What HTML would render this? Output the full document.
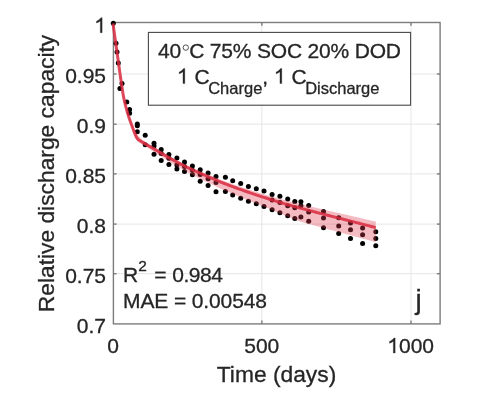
<!DOCTYPE html>
<html><head><meta charset="utf-8"><style>
html,body{margin:0;padding:0;background:#fff;}
svg{display:block;filter:blur(0.35px);font-family:"Liberation Sans",sans-serif;}
.g{stroke:#e6e6e6;stroke-width:1;}
.ax{stroke:#5a5a5a;stroke-width:1;fill:none;}
.t{font-size:21px;fill:#262626;stroke:#262626;stroke-width:0.3px;}
.lab{font-size:22.8px;fill:#262626;stroke:#262626;stroke-width:0.3px;}
</style></head><body>
<svg width="480" height="396" viewBox="0 0 480 396">
<rect width="480" height="396" fill="#fff"/>
<g class="g">
<line x1="113" y1="74" x2="440" y2="74"/>
<line x1="113" y1="124.2" x2="440" y2="124.2"/>
<line x1="113" y1="173.9" x2="440" y2="173.9"/>
<line x1="113" y1="224.1" x2="440" y2="224.1"/>
<line x1="113" y1="273.7" x2="440" y2="273.7"/>
<line x1="261.85" y1="23" x2="261.85" y2="323" />
<line x1="411" y1="23" x2="411" y2="323"/>
</g>
<g stroke="#7c7c7c" stroke-width="1.4">
<line x1="113.4" y1="74" x2="116.6" y2="74"/><line x1="113.4" y1="124.2" x2="116.6" y2="124.2"/><line x1="113.4" y1="173.9" x2="116.6" y2="173.9"/><line x1="113.4" y1="224.1" x2="116.6" y2="224.1"/><line x1="113.4" y1="273.7" x2="116.6" y2="273.7"/>
<line x1="436.9" y1="74" x2="440.1" y2="74"/><line x1="436.9" y1="124.2" x2="440.1" y2="124.2"/><line x1="436.9" y1="173.9" x2="440.1" y2="173.9"/><line x1="436.9" y1="224.1" x2="440.1" y2="224.1"/><line x1="436.9" y1="273.7" x2="440.1" y2="273.7"/>
<line x1="261.85" y1="320.6" x2="261.85" y2="323.9"/><line x1="411" y1="320.6" x2="411" y2="323.9"/>
<line x1="261.85" y1="22.5" x2="261.85" y2="25.8"/><line x1="411" y1="22.5" x2="411" y2="25.8"/>
</g>
<rect x="113.4" y="22.5" width="326.7" height="301.4" fill="none" stroke="#7c7c7c" stroke-width="1.4"/>
<g fill="#000">
<circle cx="113.3" cy="23.3" r="2.5"/>
<circle cx="116.0" cy="43.3" r="2.5"/>
<circle cx="117.0" cy="52.0" r="2.5"/>
<circle cx="118.3" cy="63.0" r="2.5"/>
<circle cx="122.0" cy="83.4" r="2.5"/>
<circle cx="119.9" cy="88.6" r="2.5"/>
<circle cx="126.8" cy="101.9" r="2.5"/>
<circle cx="129.6" cy="109.4" r="2.5"/>
<circle cx="129.6" cy="113.3" r="2.5"/>
<circle cx="137.3" cy="123.9" r="2.5"/>
<circle cx="137.3" cy="125.8" r="2.5"/>
<circle cx="137.3" cy="131.8" r="2.5"/>
<circle cx="145.2" cy="135.3" r="2.5"/>
<circle cx="145.2" cy="144.8" r="2.5"/>
<circle cx="154.0" cy="143.3" r="2.5"/>
<circle cx="154.0" cy="146.0" r="2.5"/>
<circle cx="154.0" cy="154.3" r="2.5"/>
<circle cx="161.2" cy="149.4" r="2.5"/>
<circle cx="161.2" cy="153.6" r="2.5"/>
<circle cx="161.2" cy="160.4" r="2.5"/>
<circle cx="168.9" cy="154.5" r="2.5"/>
<circle cx="168.9" cy="158.2" r="2.5"/>
<circle cx="168.9" cy="164.4" r="2.5"/>
<circle cx="176.9" cy="158.1" r="2.5"/>
<circle cx="176.9" cy="165.1" r="2.5"/>
<circle cx="176.9" cy="168.9" r="2.5"/>
<circle cx="184.5" cy="161.9" r="2.5"/>
<circle cx="184.5" cy="166.5" r="2.5"/>
<circle cx="184.5" cy="171.4" r="2.5"/>
<circle cx="192.4" cy="165.9" r="2.5"/>
<circle cx="192.4" cy="170.3" r="2.5"/>
<circle cx="192.4" cy="174.7" r="2.5"/>
<circle cx="200.2" cy="169.7" r="2.5"/>
<circle cx="200.2" cy="174.4" r="2.5"/>
<circle cx="200.2" cy="181.2" r="2.5"/>
<circle cx="208.1" cy="172.9" r="2.5"/>
<circle cx="208.1" cy="178.7" r="2.5"/>
<circle cx="208.1" cy="185.5" r="2.5"/>
<circle cx="216.0" cy="176.6" r="2.5"/>
<circle cx="216.0" cy="182.5" r="2.5"/>
<circle cx="216.0" cy="191.7" r="2.5"/>
<circle cx="225.4" cy="177.2" r="2.5"/>
<circle cx="225.4" cy="191.5" r="2.5"/>
<circle cx="232.7" cy="180.8" r="2.5"/>
<circle cx="232.7" cy="194.9" r="2.5"/>
<circle cx="240.7" cy="183.6" r="2.5"/>
<circle cx="240.7" cy="198.3" r="2.5"/>
<circle cx="248.4" cy="186.4" r="2.5"/>
<circle cx="248.4" cy="201.2" r="2.5"/>
<circle cx="256.3" cy="188.8" r="2.5"/>
<circle cx="256.3" cy="203.8" r="2.5"/>
<circle cx="264.0" cy="191.1" r="2.5"/>
<circle cx="264.0" cy="206.5" r="2.5"/>
<circle cx="272.1" cy="194.4" r="2.5"/>
<circle cx="272.1" cy="200.1" r="2.5"/>
<circle cx="272.1" cy="209.8" r="2.5"/>
<circle cx="279.9" cy="196.3" r="2.5"/>
<circle cx="279.9" cy="202.6" r="2.5"/>
<circle cx="279.9" cy="212.7" r="2.5"/>
<circle cx="287.7" cy="198.9" r="2.5"/>
<circle cx="287.7" cy="205.8" r="2.5"/>
<circle cx="287.7" cy="215.7" r="2.5"/>
<circle cx="294.8" cy="201.4" r="2.5"/>
<circle cx="294.8" cy="207.7" r="2.5"/>
<circle cx="294.8" cy="218.4" r="2.5"/>
<circle cx="300.9" cy="201.8" r="2.5"/>
<circle cx="300.9" cy="205.7" r="2.5"/>
<circle cx="300.9" cy="217.1" r="2.5"/>
<circle cx="308.7" cy="205.5" r="2.5"/>
<circle cx="308.7" cy="212.1" r="2.5"/>
<circle cx="308.7" cy="221.2" r="2.5"/>
<circle cx="323.5" cy="211.5" r="2.5"/>
<circle cx="323.5" cy="218.1" r="2.5"/>
<circle cx="323.5" cy="227.8" r="2.5"/>
<circle cx="338.7" cy="217.7" r="2.5"/>
<circle cx="338.7" cy="225.9" r="2.5"/>
<circle cx="338.7" cy="233.4" r="2.5"/>
<circle cx="350.5" cy="223.0" r="2.5"/>
<circle cx="350.5" cy="229.8" r="2.5"/>
<circle cx="350.5" cy="238.6" r="2.5"/>
<circle cx="362.6" cy="228.0" r="2.5"/>
<circle cx="362.6" cy="234.7" r="2.5"/>
<circle cx="362.6" cy="243.5" r="2.5"/>
<circle cx="375.8" cy="231.7" r="2.5"/>
<circle cx="375.8" cy="238.6" r="2.5"/>
<circle cx="375.8" cy="245.8" r="2.5"/>
</g>
<path d="M113.00,22.50 L113.46,25.79 L113.92,29.08 L114.32,31.99 L114.37,32.36 L114.83,35.64 L115.29,38.91 L115.64,41.43 L115.75,42.18 L116.20,45.44 L116.66,48.70 L116.96,50.85 L117.12,51.96 L117.58,55.21 L118.03,58.46 L118.28,60.23 L118.49,61.73 L118.95,65.01 L119.41,68.30 L119.60,69.70 L119.86,71.56 L120.32,74.76 L120.78,77.91 L120.92,78.88 L121.24,81.00 L121.69,84.12 L122.15,87.22 L122.24,87.82 L122.61,90.17 L123.07,92.92 L123.53,95.44 L123.56,95.65 L123.98,97.75 L124.44,99.87 L124.89,101.80 L124.90,101.85 L125.36,103.73 L125.81,105.51 L126.21,107.00 L126.27,107.24 L126.73,108.91 L127.19,110.53 L127.53,111.68 L127.64,112.07 L128.10,113.54 L128.56,114.85 L128.85,115.65 L129.02,116.11 L129.47,117.35 L129.93,118.53 L130.17,119.13 L130.39,119.69 L130.85,120.82 L131.31,121.92 L131.49,122.35 L131.76,123.00 L132.22,124.09 L132.68,125.20 L132.81,125.52 L133.14,126.31 L133.59,127.41 L134.05,128.52 L134.13,128.71 L134.51,129.63 L134.97,130.74 L135.42,131.68 L135.45,131.74 L135.88,132.55 L136.34,133.33 L136.77,133.96 L136.80,133.99 L137.25,134.68 L137.71,135.32 L138.09,135.78 L138.17,135.87 L138.63,136.35 L139.08,136.78 L139.41,137.07 L139.54,137.19 L140.00,137.59 L140.73,138.27 L142.05,139.47 L143.37,140.42 L144.69,141.34 L146.02,142.26 L147.34,143.16 L148.66,144.07 L149.98,144.98 L151.30,145.74 L152.62,146.49 L153.94,147.25 L155.26,148.02 L156.58,148.79 L157.90,149.55 L159.22,150.32 L160.54,151.08 L161.86,151.85 L163.18,152.62 L164.50,153.40 L165.82,154.17 L167.14,154.93 L168.47,155.68 L169.79,156.42 L171.11,157.15 L172.43,157.86 L173.75,158.57 L175.07,159.27 L176.39,159.96 L177.71,160.64 L179.03,161.32 L180.35,161.99 L181.67,162.65 L182.99,163.31 L184.31,163.96 L185.63,164.61 L186.95,165.25 L188.27,165.88 L189.59,166.49 L190.92,167.10 L192.24,167.69 L193.56,168.28 L194.88,168.85 L196.20,169.42 L197.52,169.99 L198.84,170.55 L200.16,171.12 L201.48,171.68 L202.80,172.23 L204.12,172.78 L205.44,173.33 L206.76,173.88 L208.08,174.42 L209.40,174.97 L210.72,175.52 L212.05,176.08 L213.37,176.64 L214.69,177.20 L216.01,177.76 L217.33,178.31 L218.65,178.85 L219.97,179.38 L221.29,179.89 L222.61,180.40 L223.93,180.90 L225.25,181.39 L226.57,181.88 L227.89,182.36 L229.21,182.84 L230.53,183.32 L231.85,183.79 L233.17,184.26 L234.50,184.72 L235.82,185.18 L237.14,185.64 L238.46,186.10 L239.78,186.55 L241.10,187.01 L242.42,187.46 L243.74,187.90 L245.06,188.34 L246.38,188.78 L247.70,189.22 L249.02,189.65 L250.34,190.08 L251.66,190.49 L252.98,190.90 L254.30,191.31 L255.63,191.72 L256.95,192.12 L258.27,192.52 L259.59,192.92 L260.91,193.32 L262.23,193.72 L263.55,194.11 L264.87,194.51 L266.19,194.90 L267.51,195.29 L268.83,195.68 L270.15,196.06 L271.47,196.45 L272.79,196.83 L274.11,197.20 L275.43,197.58 L276.75,197.95 L278.08,198.31 L279.40,198.67 L280.72,199.03 L282.04,199.39 L283.36,199.73 L284.68,200.08 L286.00,200.42 L287.32,200.76 L288.64,201.10 L289.96,201.43 L291.28,201.77 L292.60,202.10 L293.92,202.43 L295.24,202.75 L296.56,203.08 L297.88,203.41 L299.21,203.73 L300.53,204.06 L301.85,204.38 L303.17,204.71 L304.49,205.03 L305.81,205.35 L307.13,205.67 L308.45,205.99 L309.77,206.30 L311.09,206.62 L312.41,206.93 L313.73,207.25 L315.05,207.56 L316.37,207.87 L317.69,208.18 L319.01,208.49 L320.33,208.80 L321.66,209.11 L322.98,209.42 L324.30,209.72 L325.62,210.03 L326.94,210.33 L328.26,210.63 L329.58,210.93 L330.90,211.23 L332.22,211.53 L333.54,211.84 L334.86,212.14 L336.18,212.44 L337.50,212.74 L338.82,213.04 L340.14,213.35 L341.46,213.65 L342.78,213.96 L344.11,214.26 L345.43,214.57 L346.75,214.87 L348.07,215.18 L349.39,215.48 L350.71,215.79 L352.03,216.09 L353.35,216.40 L354.67,216.70 L355.99,217.01 L357.31,217.31 L358.63,217.62 L359.95,217.92 L361.27,218.23 L362.59,218.54 L363.91,218.84 L365.24,219.15 L366.56,219.46 L367.88,219.76 L369.20,220.07 L370.52,220.38 L371.84,220.68 L373.16,220.99 L374.48,221.30 L375.80,221.61 L375.80,242.10 L374.48,241.74 L373.16,241.38 L371.84,241.02 L370.52,240.66 L369.20,240.31 L367.88,239.95 L366.56,239.59 L365.24,239.23 L363.91,238.88 L362.59,238.52 L361.27,238.16 L359.95,237.81 L358.63,237.45 L357.31,237.09 L355.99,236.74 L354.67,236.38 L353.35,236.02 L352.03,235.67 L350.71,235.31 L349.39,234.95 L348.07,234.60 L346.75,234.24 L345.43,233.89 L344.11,233.53 L342.78,233.18 L341.46,232.82 L340.14,232.46 L338.82,232.11 L337.50,231.76 L336.18,231.40 L334.86,231.05 L333.54,230.70 L332.22,230.35 L330.90,229.99 L329.58,229.64 L328.26,229.29 L326.94,228.94 L325.62,228.58 L324.30,228.23 L322.98,227.87 L321.66,227.51 L320.33,227.15 L319.01,226.79 L317.69,226.43 L316.37,226.07 L315.05,225.71 L313.73,225.34 L312.41,224.98 L311.09,224.61 L309.77,224.25 L308.45,223.88 L307.13,223.51 L305.81,223.14 L304.49,222.77 L303.17,222.40 L301.85,222.03 L300.53,221.65 L299.21,221.18 L297.88,220.66 L296.56,220.13 L295.24,219.61 L293.92,219.08 L292.60,218.55 L291.28,218.03 L289.96,217.49 L288.64,216.96 L287.32,216.43 L286.00,215.89 L284.68,215.35 L283.36,214.80 L282.04,214.25 L280.72,213.70 L279.40,213.14 L278.08,212.58 L276.75,212.02 L275.43,211.45 L274.11,210.88 L272.79,210.30 L271.47,209.72 L270.15,209.14 L268.83,208.56 L267.51,208.00 L266.19,207.48 L264.87,206.96 L263.55,206.44 L262.23,205.91 L260.91,205.39 L259.59,204.86 L258.27,204.34 L256.95,203.81 L255.63,203.28 L254.30,202.74 L252.98,202.21 L251.66,201.67 L250.34,201.13 L249.02,200.59 L247.70,200.04 L246.38,199.49 L245.06,198.94 L243.74,198.39 L242.42,197.83 L241.10,197.27 L239.78,196.71 L238.46,196.17 L237.14,195.63 L235.82,195.09 L234.50,194.55 L233.17,194.00 L231.85,193.45 L230.53,192.89 L229.21,192.33 L227.89,191.77 L226.57,191.20 L225.25,190.63 L223.93,190.05 L222.61,189.47 L221.29,188.88 L219.97,188.29 L218.65,187.68 L217.33,187.06 L216.01,186.42 L214.69,185.78 L213.37,185.14 L212.05,184.49 L210.72,183.85 L209.40,183.21 L208.08,182.58 L206.76,181.95 L205.44,181.32 L204.12,180.69 L202.80,180.06 L201.48,179.42 L200.16,178.78 L198.84,178.13 L197.52,177.48 L196.20,176.84 L194.88,176.18 L193.56,175.52 L192.24,174.85 L190.92,174.18 L189.59,173.49 L188.27,172.78 L186.95,172.06 L185.63,171.34 L184.31,170.60 L182.99,169.86 L181.67,169.11 L180.35,168.36 L179.03,167.60 L177.71,166.83 L176.39,166.06 L175.07,165.28 L173.75,164.49 L172.43,163.69 L171.11,162.89 L169.79,162.08 L168.47,161.25 L167.14,160.41 L165.82,159.55 L164.50,158.70 L163.18,157.83 L161.86,156.97 L160.54,156.11 L159.22,155.26 L157.90,154.41 L156.58,153.55 L155.26,152.69 L153.94,151.84 L152.62,150.99 L151.30,150.14 L149.98,149.30 L148.66,148.48 L147.34,147.67 L146.02,146.86 L144.69,146.04 L143.37,145.20 L142.05,144.35 L140.73,143.46 L140.00,142.97 L139.54,142.67 L139.41,142.59 L139.08,142.38 L138.63,142.05 L138.17,141.69 L138.09,141.62 L137.71,141.26 L137.25,140.72 L136.80,140.03 L136.77,139.98 L136.34,139.20 L135.88,138.25 L135.45,137.28 L135.42,137.22 L134.97,136.11 L134.51,134.83 L134.13,133.78 L134.05,133.56 L133.59,132.29 L133.14,131.02 L132.81,130.11 L132.68,129.75 L132.22,128.48 L131.76,127.22 L131.49,126.48 L131.31,125.98 L130.85,124.71 L130.39,123.43 L130.17,122.79 L129.93,122.10 L129.47,120.76 L129.02,119.35 L128.85,118.83 L128.56,117.93 L128.10,116.46 L127.64,114.93 L127.53,114.53 L127.19,113.36 L126.73,111.72 L126.27,110.02 L126.21,109.77 L125.81,108.26 L125.36,106.46 L124.90,104.55 L124.89,104.50 L124.44,102.54 L123.98,100.39 L123.56,98.27 L123.53,98.06 L123.07,95.51 L122.61,92.74 L122.24,90.37 L122.15,89.76 L121.69,86.64 L121.24,83.48 L120.92,81.35 L120.78,80.36 L120.32,77.20 L119.86,73.96 L119.60,72.09 L119.41,70.67 L118.95,67.36 L118.49,64.05 L118.28,62.54 L118.03,60.76 L117.58,57.48 L117.12,54.20 L116.96,53.08 L116.66,50.92 L116.20,47.63 L115.75,44.34 L115.64,43.59 L115.29,41.05 L114.83,37.75 L114.37,34.44 L114.32,34.07 L113.92,31.13 L113.46,27.82 L113.00,24.50Z" fill="#e04050" fill-opacity="0.35"/>
<path d="M113.00,23.50 L113.32,25.83 L113.65,28.16 L113.97,30.49 L114.29,32.82 L114.62,35.15 L114.94,37.48 L115.27,39.81 L115.59,42.14 L115.92,44.47 L116.25,46.80 L116.57,49.12 L116.90,51.45 L117.23,53.78 L117.55,56.11 L117.88,58.44 L118.21,60.77 L118.53,63.10 L118.86,65.43 L119.18,67.76 L119.51,70.09 L119.83,72.42 L120.16,74.75 L120.50,77.08 L120.84,79.41 L121.18,81.74 L121.52,84.07 L121.86,86.40 L122.21,88.73 L122.57,91.06 L122.95,93.39 L123.36,95.72 L123.80,98.05 L124.29,100.38 L124.82,102.70 L125.39,105.03 L125.99,107.36 L126.62,109.69 L127.27,112.02 L127.97,114.35 L128.70,116.68 L129.48,119.01 L130.28,121.34 L131.13,123.67 L132.00,126.00 L135.00,134.20 L136.51,137.45 L138.03,139.40 L139.54,140.43 L141.06,141.35 L142.57,142.27 L144.09,143.16 L145.60,144.02 L147.12,144.87 L148.63,145.72 L150.14,146.58 L151.66,147.46 L153.17,148.35 L154.69,149.25 L156.20,150.15 L157.72,151.05 L159.23,151.95 L160.75,152.84 L162.26,153.74 L163.77,154.65 L165.29,155.56 L166.80,156.45 L168.32,157.34 L169.83,158.21 L171.35,159.05 L172.86,159.89 L174.38,160.72 L175.89,161.53 L177.41,162.34 L178.92,163.14 L180.43,163.93 L181.95,164.71 L183.46,165.48 L184.98,166.25 L186.49,167.00 L188.01,167.74 L189.52,168.47 L191.04,169.19 L192.55,169.89 L194.06,170.57 L195.58,171.25 L197.09,171.92 L198.61,172.59 L200.12,173.25 L201.64,173.91 L203.15,174.57 L204.67,175.22 L206.18,175.87 L207.69,176.51 L209.21,177.16 L210.72,177.81 L212.24,178.47 L213.75,179.14 L215.27,179.80 L216.78,180.45 L218.30,181.10 L219.81,181.72 L221.32,182.33 L222.84,182.93 L224.35,183.52 L225.87,184.11 L227.38,184.68 L228.90,185.26 L230.41,185.82 L231.93,186.38 L233.44,186.94 L234.95,187.49 L236.47,188.03 L237.98,188.58 L239.50,189.12 L241.01,189.66 L242.53,190.19 L244.04,190.73 L245.56,191.25 L247.07,191.77 L248.58,192.29 L250.10,192.81 L251.61,193.32 L253.13,193.83 L254.64,194.33 L256.16,194.84 L257.67,195.34 L259.19,195.83 L260.70,196.33 L262.22,196.82 L263.73,197.31 L265.24,197.80 L266.76,198.29 L268.27,198.78 L269.79,199.26 L271.30,199.74 L272.82,200.21 L274.33,200.68 L275.85,201.15 L277.36,201.61 L278.87,202.06 L280.39,202.52 L281.90,202.96 L283.42,203.40 L284.93,203.83 L286.45,204.26 L287.96,204.69 L289.48,205.11 L290.99,205.53 L292.50,205.95 L294.02,206.37 L295.53,206.78 L297.05,207.20 L298.56,207.61 L300.08,208.02 L301.59,208.43 L303.11,208.84 L304.62,209.25 L306.13,209.65 L307.65,210.06 L309.16,210.46 L310.68,210.86 L312.19,211.26 L313.71,211.66 L315.22,212.05 L316.74,212.45 L318.25,212.84 L319.76,213.24 L321.28,213.63 L322.79,214.02 L324.31,214.41 L325.82,214.80 L327.34,215.18 L328.85,215.57 L330.37,215.95 L331.88,216.34 L333.39,216.72 L334.91,217.10 L336.42,217.49 L337.94,217.87 L339.45,218.26 L340.97,218.65 L342.48,219.04 L344.00,219.42 L345.51,219.81 L347.03,220.20 L348.54,220.59 L350.05,220.98 L351.57,221.36 L353.08,221.75 L354.60,222.14 L356.11,222.53 L357.63,222.92 L359.14,223.31 L360.66,223.70 L362.17,224.09 L363.68,224.48 L365.20,224.87 L366.71,225.26 L368.23,225.65 L369.74,226.04 L371.26,226.43 L372.77,226.82 L374.29,227.21 L375.80,227.60" fill="none" stroke="#d92a40" stroke-opacity="0.85" stroke-width="3.0" stroke-linejoin="miter" stroke-linecap="butt"/>
<g class="t" text-anchor="end">
<text x="106" y="32.7"><tspan visibility="hidden">1</tspan></text>
<text x="106" y="83.2">0.95</text>
<text x="106" y="133.2">0.9</text>
<text x="106" y="183.2">0.85</text>
<text x="106" y="233.2">0.8</text>
<text x="106" y="283.2">0.75</text>
<text x="106" y="333.2">0.7</text>
</g>
<g class="t" text-anchor="middle">
<text x="113" y="353">0</text>
<text x="261.8" y="353">500</text>
<text x="410.7" y="353"><tspan visibility="hidden">1</tspan>000</text>
</g>
<text class="lab" x="276.5" y="381.5" text-anchor="middle">Time (days)</text>
<text class="lab" transform="translate(54,173.5) rotate(-90)" text-anchor="middle">Relative discharge capacity</text>
<rect x="148.4" y="32.4" width="262.2" height="72.8" fill="#fff" stroke="#484848" stroke-width="1.1"/>
<text class="t" x="158" y="58" textLength="243" lengthAdjust="spacing">40<tspan visibility="hidden">°</tspan>C 75% SOC 20% DOD</text>
<text class="t" x="177" y="83.5"><tspan visibility="hidden">1</tspan> C<tspan font-size="16.5" dy="10.5" dx="-1.5">Charge</tspan><tspan dy="-10.5">, </tspan><tspan visibility="hidden">1</tspan><tspan> C</tspan><tspan font-size="16.5" dy="10.5" dx="-1.5">Discharge</tspan></text>
<text class="t" x="123" y="282.3">R<tspan font-size="15.5" dy="-11.5">2</tspan><tspan dy="11.5" dx="1.6"> = </tspan><tspan style="letter-spacing:-0.5px">0.984</tspan></text>
<text class="t" x="123" y="308" textLength="144" lengthAdjust="spacing">MAE = 0.00548</text>
<text x="415.5" y="308.5" style="font-size:28px;fill:#262626;stroke:#262626;stroke-width:0.3px">j</text>
<path transform="translate(94.312,32.70) scale(0.010254,-0.010254)" d="M763,0 L583,0 L583,1147 Q420,1010 209,939 L209,1113 Q480,1235 649,1466 L763,1466 Z" fill="#262626" stroke="#262626" stroke-width="29"/>
<path transform="translate(387.341,353.00) scale(0.010254,-0.010254)" d="M763,0 L583,0 L583,1147 Q420,1010 209,939 L209,1113 Q480,1235 649,1466 L763,1466 Z" fill="#262626" stroke="#262626" stroke-width="29"/>
<path transform="translate(177.000,83.50) scale(0.010254,-0.010254)" d="M763,0 L583,0 L583,1147 Q420,1010 209,939 L209,1113 Q480,1235 649,1466 L763,1466 Z" fill="#262626" stroke="#262626" stroke-width="29"/>
<path transform="translate(273.969,83.50) scale(0.010254,-0.010254)" d="M763,0 L583,0 L583,1147 Q420,1010 209,939 L209,1113 Q480,1235 649,1466 L763,1466 Z" fill="#262626" stroke="#262626" stroke-width="29"/>
<circle cx="185.8" cy="47.6" r="2.7" fill="none" stroke="#333" stroke-width="0.85"/>
</svg>
</body></html>
